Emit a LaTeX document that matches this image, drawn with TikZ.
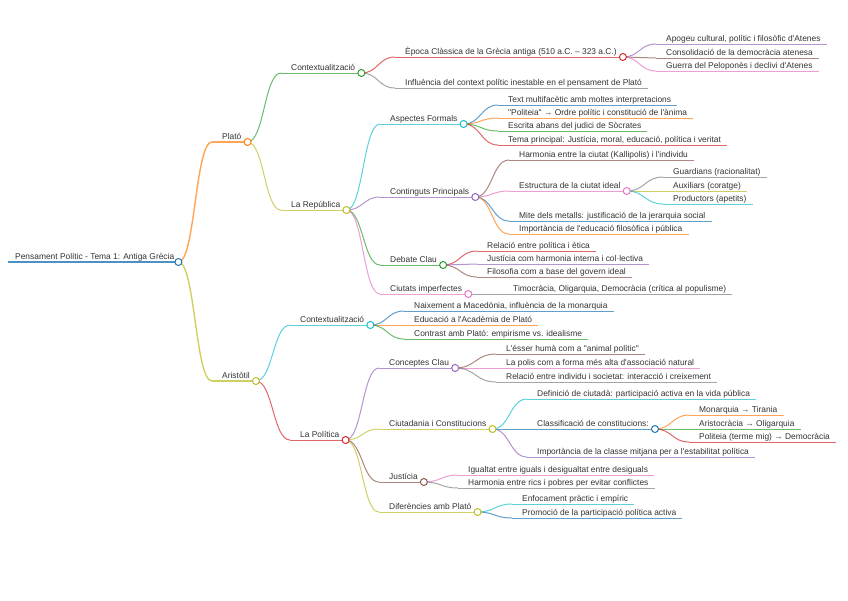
\documentclass[tikz,border=0pt]{standalone}
\usepackage{fontspec}
\newfontfamily\mmfont{Liberation Sans}
\usetikzlibrary{calc}
\definecolor{cblue}{HTML}{1F77B4}
\definecolor{corange}{HTML}{FF7F0E}
\definecolor{cgreen}{HTML}{2CA02C}
\definecolor{cred}{HTML}{D62728}
\definecolor{cpurple}{HTML}{9467BD}
\definecolor{cbrown}{HTML}{8C564B}
\definecolor{cpink}{HTML}{E377C2}
\definecolor{cgrey}{HTML}{7F7F7F}
\definecolor{colive}{HTML}{BCBD22}
\definecolor{ccyan}{HTML}{17BECF}
\tikzset{
  mmtext/.style={inner sep=0pt, font=\mmfont\fontsize{8.4}{10}\selectfont, text=black!80},
  uline/.style={line width=1pt, draw opacity=.7},
  link/.style={line width=1pt, draw opacity=.7},
  dot/.style={circle, draw, fill=white, inner sep=0pt, minimum size=7pt, line width=1pt}
}
\newcommand\mmnode[5]{%
  \coordinate (#1s) at (#3,#4);
  \node[mmtext, anchor=base west] (#1) at (#3+10,#4-3) {#5};
  \coordinate (#1e) at ($(#1.base east)+(6,3)$);
  \draw[uline, #2] (#1s) -- (#1e);
}
\newcommand\mmlink[3]{%
  \coordinate (mid) at ($(#1e)!.5!(#2s)$);
  \draw[link, #3] (#1e) .. controls (mid |- #1e) and (mid |- #2s) .. (#2s);
}
\newcommand\mmdot[2]{\node[dot, draw=#2] (#1d) at (#1e) {};}
\begin{document}
\begin{tikzpicture}[x=1pt,y=-1pt]
\fill[white] (0,0) rectangle (848,600);
\useasboundingbox (0,0) rectangle (848,600);

% root
\coordinate (Rs) at (8,262);
\node[mmtext, anchor=base west] (R) at (15,259) {Pensament Polític - Tema 1: Antiga Grècia};
\coordinate (Re) at ($(R.base east)+(4,3)$);
\draw[cblue, line width=1.8pt, draw opacity=.8] (Rs) -- (Re);

% level 1
\mmnode{P}{corange, line width=1.4pt}{212}{142}{Plató}
\mmnode{A}{colive, line width=1.4pt}{212}{381}{Aristòtil}

% level 2
\mmnode{PC}{cgreen}{281}{73}{Contextualització}
\mmnode{PR}{colive}{281}{210}{La República}
\mmnode{AC}{ccyan}{290}{325}{Contextualització}
\mmnode{AP}{cred}{290}{440}{La Política}

% Plató / Contextualització
\mmnode{PCa}{cred}{395}{57}{Època Clàssica de la Grècia antiga (510 a.C. – 323 a.C.)}
\mmnode{PCb}{cgrey}{395}{88}{Influència del context polític inestable en el pensament de Plató}
\mmnode{PCaa}{cpurple}{656}{44}{Apogeu cultural, polític i filosòfic d'Atenes}
\mmnode{PCab}{cbrown}{656}{58}{Consolidació de la democràcia atenesa}
\mmnode{PCac}{cpink}{656}{71}{Guerra del Peloponès i declivi d'Atenes}

% La República
\mmnode{PRa}{ccyan}{380}{124}{Aspectes Formals}
\mmnode{PRb}{cpurple}{380}{197}{Continguts Principals}
\mmnode{PRc}{cgreen}{380}{265}{Debate Clau}
\mmnode{PRd}{cpink}{380}{294}{Ciutats imperfectes}

\mmnode{PRaa}{cblue}{498}{105}{Text multifacètic amb moltes interpretacions}
\mmnode{PRab}{corange}{498}{118}{"Politeia" → Ordre polític i constitució de l'ànima}
\mmnode{PRac}{cgreen}{498}{131}{Escrita abans del judici de Sòcrates}
\mmnode{PRad}{cred}{498}{145}{Tema principal: Justícia, moral, educació, política i veritat}

\mmnode{PRba}{cbrown}{509}{160}{Harmonia entre la ciutat (Kallipolis) i l'individu}
\mmnode{PRbb}{cpink}{509}{191}{Estructura de la ciutat ideal}
\mmnode{PRbc}{cblue}{509}{221}{Mite dels metalls: justificació de la jerarquia social}
\mmnode{PRbd}{corange}{509}{234}{Importància de l'educació filosòfica i pública}

\mmnode{PRbba}{cgrey}{663}{177}{Guardians (racionalitat)}
\mmnode{PRbbb}{colive}{663}{191}{Auxiliars (coratge)}
\mmnode{PRbbc}{ccyan}{663}{204}{Productors (apetits)}

\mmnode{PRca}{cred}{477}{251}{Relació entre política i ètica}
\mmnode{PRcb}{cpurple}{477}{264}{Justícia com harmonia interna i col·lectiva}
\mmnode{PRcc}{cbrown}{477}{277}{Filosofia com a base del govern ideal}

\mmnode{PRda}{cgrey}{503}{294}{Timocràcia, Oligarquia, Democràcia (crítica al populisme)}

% Aristòtil / Contextualització
\mmnode{ACa}{cblue}{404}{311}{Naixement a Macedònia, influència de la monarquia}
\mmnode{ACb}{corange}{404}{325}{Educació a l'Acadèmia de Plató}
\mmnode{ACc}{cgreen}{404}{339}{Contrast amb Plató: empirisme vs. idealisme}

% La Política
\mmnode{APa}{cpurple}{379}{368}{Conceptes Clau}
\mmnode{APb}{colive}{379}{429}{Ciutadania i Constitucions}
\mmnode{APc}{cbrown}{379}{482}{Justícia}
\mmnode{APd}{colive}{379}{512}{Diferències amb Plató}

\mmnode{APaa}{cbrown}{496}{354}{L'ésser humà com a "animal polític"}
\mmnode{APab}{cpink}{496}{368}{La polis com a forma més alta d'associació natural}
\mmnode{APac}{cgrey}{496}{382}{Relació entre individu i societat: interacció i creixement}

\mmnode{APba}{ccyan}{527}{399}{Definició de ciutadà: participació activa en la vida pública}
\mmnode{APbb}{cblue}{527}{429}{Classificació de constitucions:}
\mmnode{APbc}{cpurple}{527}{457}{Importància de la classe mitjana per a l'estabilitat política}

\mmnode{APbba}{corange}{689}{415}{Monarquia → Tirania}
\mmnode{APbbb}{cgreen}{689}{429}{Aristocràcia → Oligarquia}
\mmnode{APbbc}{cred}{689}{442}{Politeia (terme mig) → Democràcia}

\mmnode{APca}{cpink}{458}{475}{Igualtat entre iguals i desigualtat entre desiguals}
\mmnode{APcb}{cgrey}{458}{488}{Harmonia entre rics i pobres per evitar conflictes}

\mmnode{APda}{ccyan}{512}{504}{Enfocament pràctic i empíric}
\mmnode{APdb}{cblue}{512}{518}{Promoció de la participació política activa}

% links
\mmlink{R}{P}{corange, line width=1.4pt}
\mmlink{R}{A}{colive, line width=1.4pt}
\mmlink{P}{PC}{cgreen}
\mmlink{P}{PR}{colive}
\mmlink{A}{AC}{ccyan}
\mmlink{A}{AP}{cred}
\mmlink{PC}{PCa}{cred}
\mmlink{PC}{PCb}{cgrey}
\mmlink{PCa}{PCaa}{cpurple}
\mmlink{PCa}{PCab}{cbrown}
\mmlink{PCa}{PCac}{cpink}
\mmlink{PR}{PRa}{ccyan}
\mmlink{PR}{PRb}{cpurple}
\mmlink{PR}{PRc}{cgreen}
\mmlink{PR}{PRd}{cpink}
\mmlink{PRa}{PRaa}{cblue}
\mmlink{PRa}{PRab}{corange}
\mmlink{PRa}{PRac}{cgreen}
\mmlink{PRa}{PRad}{cred}
\mmlink{PRb}{PRba}{cbrown}
\mmlink{PRb}{PRbb}{cpink}
\mmlink{PRb}{PRbc}{cblue}
\mmlink{PRb}{PRbd}{corange}
\mmlink{PRbb}{PRbba}{cgrey}
\mmlink{PRbb}{PRbbb}{colive}
\mmlink{PRbb}{PRbbc}{ccyan}
\mmlink{PRc}{PRca}{cred}
\mmlink{PRc}{PRcb}{cpurple}
\mmlink{PRc}{PRcc}{cbrown}
\mmlink{PRd}{PRda}{cgrey}
\mmlink{AC}{ACa}{cblue}
\mmlink{AC}{ACb}{corange}
\mmlink{AC}{ACc}{cgreen}
\mmlink{AP}{APa}{cpurple}
\mmlink{AP}{APb}{colive}
\mmlink{AP}{APc}{cbrown}
\mmlink{AP}{APd}{colive}
\mmlink{APa}{APaa}{cbrown}
\mmlink{APa}{APab}{cpink}
\mmlink{APa}{APac}{cgrey}
\mmlink{APb}{APba}{ccyan}
\mmlink{APb}{APbb}{cblue}
\mmlink{APb}{APbc}{cpurple}
\mmlink{APbb}{APbba}{corange}
\mmlink{APbb}{APbbb}{cgreen}
\mmlink{APbb}{APbbc}{cred}
\mmlink{APc}{APca}{cpink}
\mmlink{APc}{APcb}{cgrey}
\mmlink{APd}{APda}{ccyan}
\mmlink{APd}{APdb}{cblue}

% dots
\mmdot{R}{cblue}
\mmdot{P}{corange}
\mmdot{A}{colive}
\mmdot{PC}{cgreen}
\mmdot{PR}{colive}
\mmdot{AC}{ccyan}
\mmdot{AP}{cred}
\mmdot{PCa}{cred}
\mmdot{PRa}{ccyan}
\mmdot{PRb}{cpurple}
\mmdot{PRc}{cgreen}
\mmdot{PRd}{cpink}
\mmdot{PRbb}{cpink}
\mmdot{APa}{cpurple}
\mmdot{APb}{colive}
\mmdot{APc}{cbrown}
\mmdot{APd}{colive}
\mmdot{APbb}{cblue}
\end{tikzpicture}
\end{document}
